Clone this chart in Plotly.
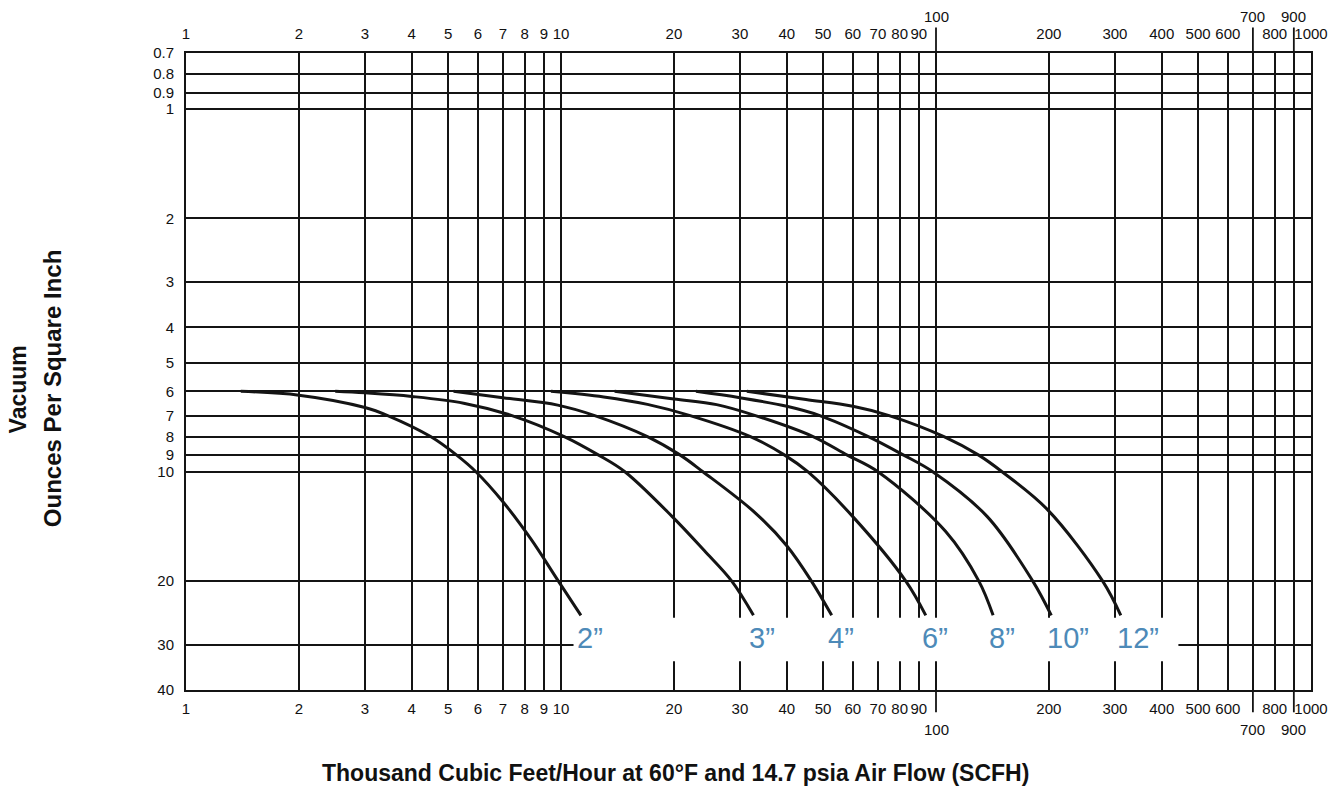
import math
import plotly.graph_objects as go

# Air flow (thousand SCFH) against vacuum (oz/sq in) for each pipe size
pipe_sizes = ["2”", "3”", "4”", "6”", "8”", "10”", "12”"]

flow_2in = [1.4, 2.0, 3.0, 3.45, 4.49, 5.27, 5.93, 7.0, 8.3, 9.83, 11.3]
vac_2in = [6.0, 6.15, 6.65, 7.0, 8.0, 9.0, 10.0, 12.1, 15.3, 20.0, 24.9]

flow_3in = [2.5, 3.0, 4.0, 5.5, 7.4, 10.2, 12.6, 14.8, 19.8, 24.1, 28.5, 32.6]
vac_3in = [6.0, 6.06, 6.2, 6.47, 7.0, 8.0, 9.0, 10.0, 13.3, 16.5, 20.0, 24.9]

flow_4in = [5.17, 7.0, 9.8, 12.3, 17.0, 20.8, 23.9, 33.0, 40.0, 46.5, 52.7]
vac_4in = [6.0, 6.25, 6.55, 7.0, 8.0, 9.0, 10.0, 13.0, 16.0, 20.0, 24.9]

flow_6in = [9.4, 13.0, 17.0, 22.1, 32.0, 39.5, 45.5, 60.0, 83.0, 93.9]
vac_6in = [6.0, 6.22, 6.52, 7.0, 8.0, 9.0, 10.0, 13.3, 20.0, 24.9]

flow_8in = [13.9, 20.0, 26.0, 33.0, 47.0, 58.0, 70.0, 106.0, 130.0, 142.0]
vac_8in = [6.0, 6.3, 6.53, 7.0, 8.0, 9.0, 10.0, 14.6, 20.0, 24.9]

flow_10in = [22.9, 30.0, 40.0, 49.0, 66.0, 82.0, 98.0, 137.0, 181.0, 203.0]
vac_10in = [6.0, 6.25, 6.6, 7.0, 8.0, 9.0, 10.0, 13.3, 20.0, 24.9]

flow_12in = [31.3, 45.0, 60.0, 75.0, 105.0, 130.0, 150.0, 198.0, 278.0, 311.0]
vac_12in = [6.0, 6.32, 6.6, 7.0, 8.0, 9.0, 10.0, 12.7, 20.0, 24.9]

flows = [flow_2in, flow_3in, flow_4in, flow_6in, flow_8in, flow_10in, flow_12in]
vacs = [vac_2in, vac_3in, vac_4in, vac_6in, vac_8in, vac_10in, vac_12in]

# Grid / tick values
x_ticks = [1, 2, 3, 4, 5, 6, 7, 8, 9, 10, 20, 30, 40, 50, 60, 70, 80, 90,
           100, 200, 300, 400, 500, 600, 700, 800, 900, 1000]
x_raised = [100, 700, 900]          # labels set off from the others
y_ticks = [0.7, 0.8, 0.9, 1, 2, 3, 4, 5, 6, 7, 8, 9, 10, 20, 30, 40]
y_labels = ["0.7", "0.8", "0.9", "1", "2", "3", "4", "5", "6", "7", "8",
            "9", "10", "20", "30", "40"]

label_vac = 28.7                    # vacuum level where size labels sit
mask_flow = (10.8, 443.0)           # white band behind the size labels
mask_vac = (25.3, 33.3)

INK = "#141414"
BLUE = "#4d8ab8"
TICK_FONT = dict(family="Liberation Sans Narrow, Liberation Sans, Arial", size=15, color="#111111")

fig = go.Figure()

for name, fx, vy in zip(pipe_sizes, flows, vacs):
    fig.add_trace(go.Scatter(
        x=fx, y=vy, mode="lines", name=name,
        line=dict(color=INK, width=3, shape="spline", smoothing=1.0),
        hoverinfo="skip", showlegend=False,
    ))

x_text = ["" if v in x_raised else str(v) for v in x_ticks]

fig.update_layout(
    width=1340, height=789,
    margin=dict(l=186, r=25, t=53, b=99),
    paper_bgcolor="white", plot_bgcolor="white",
    xaxis=dict(
        type="log", range=[0, 3], tickmode="array", tickvals=x_ticks, ticktext=x_text,
        showgrid=True, gridcolor=INK, gridwidth=1.8, zeroline=False,
        showline=True, linecolor=INK, linewidth=2, mirror=True,
        ticks="", ticklabelstandoff=4, tickfont=TICK_FONT,
    ),
    xaxis2=dict(
        type="log", range=[0, 3], overlaying="x", side="top", anchor="y",
        tickmode="array", tickvals=x_ticks, ticktext=x_text,
        showgrid=False, zeroline=False, showline=False,
        ticks="", ticklabelstandoff=10, tickfont=TICK_FONT,
    ),
    yaxis=dict(
        type="log", range=[math.log10(40), math.log10(0.7)],
        tickmode="array", tickvals=y_ticks, ticktext=y_labels,
        showgrid=True, gridcolor=INK, gridwidth=1.8, zeroline=False,
        showline=True, linecolor=INK, linewidth=2, mirror=True,
        ticks="", ticklabelstandoff=7, tickfont=TICK_FONT,
    ),
)

# keep the top axis alive with an invisible trace
fig.add_trace(go.Scatter(x=[1, 1000], y=[6, 6], xaxis="x2", mode="lines",
                         line=dict(width=0), hoverinfo="skip", showlegend=False))

# white band behind the size labels (over the grid, under the curves)
fig.add_shape(type="rect", xref="x", yref="y",
              x0=mask_flow[0], x1=mask_flow[1], y0=mask_vac[0], y1=mask_vac[1],
              fillcolor="white", line=dict(width=0), layer="between")

# longer tick strokes for the set-off labels
for v in x_raised:
    fig.add_shape(type="line", xref="x", yref="paper", x0=v, x1=v, y0=1.0, y1=1.04,
                  line=dict(color=INK, width=1.8))
    fig.add_shape(type="line", xref="x", yref="paper", x0=v, x1=v, y0=0.0, y1=-0.035,
                  line=dict(color=INK, width=1.8))
    fig.add_annotation(x=math.log10(v), xref="x", y=1.0, yref="paper", yshift=37,
                       yanchor="middle", text=str(v), showarrow=False, font=TICK_FONT)
    fig.add_annotation(x=math.log10(v), xref="x", y=0.0, yref="paper", yshift=-39,
                       yanchor="middle", text=str(v), showarrow=False, font=TICK_FONT)

# pipe-size labels at the foot of each curve
for name, fx in zip(pipe_sizes, flows):
    fig.add_annotation(x=math.log10(fx[-1]), xref="x", y=math.log10(label_vac), yref="y",
                       text=name, showarrow=False, xanchor="left", xshift=-6,
                       font=dict(family="Liberation Sans, Arial", size=29, color=BLUE))

TITLE_FONT = dict(family="Liberation Sans, Arial", size=23, color="#111111")
fig.add_annotation(x=0.435, y=-0.13, xref="paper", yref="paper", showarrow=False,
                   xanchor="center", yanchor="middle",
                   text="<b>Thousand Cubic Feet/Hour at 60°F and 14.7 psia Air Flow (SCFH)</b>",
                   font=TITLE_FONT)
fig.add_annotation(x=-0.149, y=0.4725, xref="paper", yref="paper", showarrow=False,
                   xanchor="center", yanchor="middle",
                   text="<b>Vacuum</b>", textangle=-90, font=TITLE_FONT)
fig.add_annotation(x=-0.119, y=0.4725, xref="paper", yref="paper", showarrow=False,
                   xanchor="center", yanchor="middle",
                   text="<b>Ounces Per Square Inch</b>", textangle=-90,
                   font=dict(family="Liberation Sans, Arial", size=24, color="#111111"))

fig.write_html("out.html")
